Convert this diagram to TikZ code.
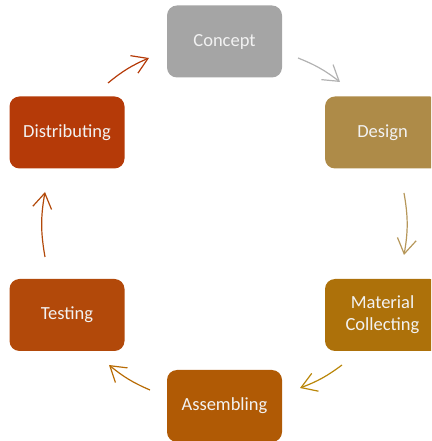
\documentclass[tikz,border=0pt]{standalone}
\usepackage{fontspec}
\setmainfont{Carlito}
\usepackage{xcolor}
\usetikzlibrary{arrows.meta}

\definecolor{conceptcol}{HTML}{A5A5A5}
\definecolor{designcol}{HTML}{AE8B48}
\definecolor{materialcol}{HTML}{AD710A}
\definecolor{assemblecol}{HTML}{B05A05}
\definecolor{testcol}{HTML}{B2490A}
\definecolor{distribcol}{HTML}{B53A08}

\begin{document}
\begin{tikzpicture}[x=1pt,y=1pt,->,>={Straight Barb[length=15pt,width=19pt]},line width=1.2pt]
    \tikzstyle{stage}=[shape=rectangle, rounded corners=10pt, minimum width=115pt, minimum height=72pt, inner sep=0pt, align=center, text=white!95!black, font=\fontsize{18.5}{22}\selectfont]
    \clip (0,0) rectangle (431,441);
	\node[stage, fill=conceptcol] (concept) at (224.5, 399.5) {Concept};
	\node[stage, fill=designcol] (design) at (382.5, 308.5) {Design};
	\node[stage, fill=materialcol] (material) at (382.5, 126) {Material\\ Collecting};
	\node[stage, fill=assemblecol] (assembling) at (224.5, 35) {Assembling};
	\node[stage, fill=testcol] (testing) at (67, 126) {Testing};
	\node[stage, fill=distribcol] (distributing) at (67, 308.5) {Distributing};

	\coordinate (a1s) at (298, 383); \coordinate (a1e) at (340, 359);
	\coordinate (a2s) at (404, 248); \coordinate (a2e) at (404, 186);
	\coordinate (a3s) at (342, 76);  \coordinate (a3e) at (300, 53);
	\coordinate (a4s) at (150, 51);  \coordinate (a4e) at (109, 76);
	\coordinate (a5s) at (45, 184);  \coordinate (a5e) at (45, 249);
	\coordinate (a6s) at (108, 358); \coordinate (a6e) at (149, 383);

	\draw [draw=conceptcol!85] (a1s) to[bend left=8] (a1e);
	\draw [draw=designcol!90!white] (a2s) to[bend left=10] (a2e);
	\draw [draw=materialcol!85!yellow] (a3s) to[bend left=8] (a3e);
	\draw [draw=assemblecol!90!yellow] (a4s) to[bend left=8] (a4e);
	\draw [draw=testcol] (a5s) to[bend left=10] (a5e);
	\draw [draw=distribcol] (a6s) to[bend left=8] (a6e);
\end{tikzpicture}
\end{document}
